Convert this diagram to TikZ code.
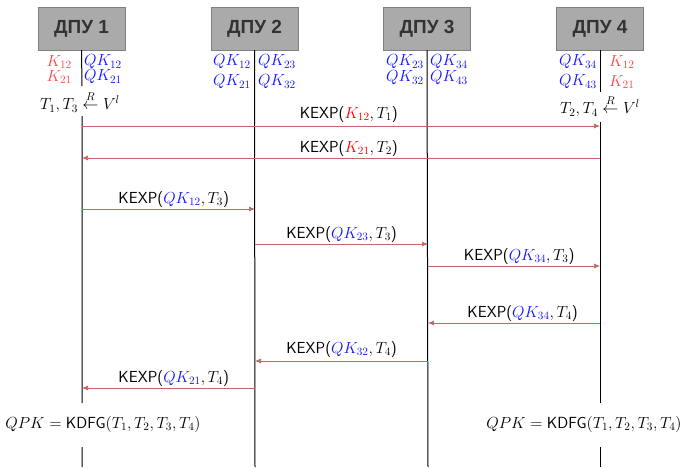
\RequirePackage{fix-cm}
\documentclass[tikz,border=0pt]{standalone}
\usepackage{amsmath}
\usepackage{fontspec}
\newfontfamily\dpufont{Liberation Sans}
\usetikzlibrary{arrows.meta}
\definecolor{boxfill}{HTML}{AAAAAA}
\definecolor{boxline}{HTML}{808080}
\definecolor{boxtext}{HTML}{333333}
\definecolor{msgcol}{RGB}{200,100,100}
\definecolor{hred}{RGB}{255,70,70}
\definecolor{kblue}{RGB}{20,20,255}
\begin{document}
\begin{tikzpicture}[x=1pt,y=-1pt,
  dpu/.style={draw=boxline,fill=boxfill,minimum width=87pt,minimum height=43pt,inner sep=0pt,
    font=\dpufont\bfseries\fontsize{19}{21}\selectfont,text=boxtext},
  life/.style={line width=1pt,black},
  msg/.style={draw=msgcol,line width=0.7pt,-{Latex[length=6pt,width=5pt]}},
  lbl/.style={inner sep=0pt,font=\fontsize{16.1}{18}\selectfont},
  mlbl/.style={inner sep=0pt,anchor=base,font=\sffamily\fontsize{16}{19}\selectfont}]
\useasboundingbox (0,0) rectangle (681,467);
% boxes
\node[dpu] (d1) at (81.5,28.5) {ДПУ 1};
\node[dpu] (d2) at (254.5,28.5) {ДПУ 2};
\node[dpu] (d3) at (427,28.5) {ДПУ 3};
\node[dpu] (d4) at (600,28.5) {ДПУ 4};
% lifelines
\coordinate (l1a) at (82,86); \coordinate (l1b) at (82,116); \coordinate (l1c) at (82,403);
\coordinate (l1d) at (82,447); \coordinate (l1e) at (82,467);
\coordinate (l2e) at (255,467);
\coordinate (l3e) at (428,467);
\coordinate (l4a) at (600,92); \coordinate (l4b) at (600,122); \coordinate (l4c) at (600,403);
\coordinate (l4d) at (600,447); \coordinate (l4e) at (600,467);
\draw[life] (d1.south) -- (l1a) (l1b) -- (l1c) (l1d) -- (l1e);
\draw[life] (d2.south) -- (l2e);
\draw[life] (d3.south) -- (l3e);
\draw[life] (d4.south) -- (l4a) (l4b) -- (l4c) (l4d) -- (l4e);
% header keys
\node[lbl,anchor=east,text=hred] (k1a) at (72,62) {$K_{12}$};
\node[lbl,anchor=east,text=hred] (k1b) at (72,77) {$K_{21}$};
\node[lbl,anchor=west,text=kblue] (k1c) at (84,62) {$QK_{12}$};
\node[lbl,anchor=west,text=kblue] (k1d) at (84,77) {$QK_{21}$};
\node[lbl,anchor=east,text=kblue] (k2a) at (251,62) {$QK_{12}$};
\node[lbl,anchor=east,text=kblue] (k2b) at (251,82) {$QK_{21}$};
\node[lbl,anchor=west,text=kblue] (k2c) at (258,62) {$QK_{23}$};
\node[lbl,anchor=west,text=kblue] (k2d) at (258,82) {$QK_{32}$};
\node[lbl,anchor=east,text=kblue] (k3a) at (424,62) {$QK_{23}$};
\node[lbl,anchor=east,text=kblue] (k3b) at (424,78) {$QK_{32}$};
\node[lbl,anchor=west,text=kblue] (k3c) at (430,62) {$QK_{34}$};
\node[lbl,anchor=west,text=kblue] (k3d) at (430,78) {$QK_{43}$};
\node[lbl,anchor=east,text=kblue] (k4a) at (597,62) {$QK_{34}$};
\node[lbl,anchor=east,text=kblue] (k4b) at (597,82) {$QK_{43}$};
\node[lbl,anchor=west,text=hred] (k4c) at (609,62) {$K_{12}$};
\node[lbl,anchor=west,text=hred] (k4d) at (609,82) {$K_{21}$};
% random choices
\node[lbl] (r1) at (80,102) {$T_1,T_3 \overset{R}{\leftarrow} V^l$};
\node[lbl] (r4) at (600,106) {$T_2,T_4 \overset{R}{\leftarrow} V^l$};
% messages
\coordinate (m1s) at (82,126);  \coordinate (m1e) at (600,126);
\coordinate (m2s) at (600,158); \coordinate (m2e) at (82,158);
\coordinate (m3s) at (82,209);  \coordinate (m3e) at (255,209);
\coordinate (m4s) at (255,244); \coordinate (m4e) at (428,244);
\coordinate (m5s) at (428,266); \coordinate (m5e) at (600,266);
\coordinate (m6s) at (600,323); \coordinate (m6e) at (428,323);
\coordinate (m7s) at (428,361); \coordinate (m7e) at (255,361);
\coordinate (m8s) at (255,388); \coordinate (m8e) at (82,388);
\draw[msg] (m1s) -- (m1e) node[mlbl,pos=0.515,yshift=8pt] {KEXP($\textcolor{red}{K_{12}},T_1$)};
\draw[msg] (m2s) -- (m2e) node[mlbl,pos=0.485,yshift=6pt] {KEXP($\textcolor{red}{K_{21}},T_2$)};
\draw[msg] (m3s) -- (m3e) node[mlbl,pos=0.53,yshift=6pt] {KEXP($\textcolor{kblue}{QK_{12}},T_3$)};
\draw[msg] (m4s) -- (m4e) node[mlbl,midway,yshift=6pt] {KEXP($\textcolor{kblue}{QK_{23}},T_3$)};
\draw[msg] (m5s) -- (m5e) node[mlbl,pos=0.53,yshift=6pt] {KEXP($\textcolor{kblue}{QK_{34}},T_3$)};
\draw[msg] (m6s) -- (m6e) node[mlbl,pos=0.45,yshift=6pt] {KEXP($\textcolor{kblue}{QK_{34}},T_4$)};
\draw[msg] (m7s) -- (m7e) node[mlbl,midway,yshift=8pt] {KEXP($\textcolor{kblue}{QK_{32}},T_4$)};
\draw[msg] (m8s) -- (m8e) node[mlbl,pos=0.47,yshift=6pt] {KEXP($\textcolor{kblue}{QK_{21}},T_4$)};
% results
\node[lbl] (q1) at (103,424) {$QPK = \text{\sffamily KDFG}(T_1,T_2,T_3,T_4)$};
\node[lbl] (q4) at (584,424) {$QPK = \text{\sffamily KDFG}(T_1,T_2,T_3,T_4)$};
\end{tikzpicture}
\end{document}
